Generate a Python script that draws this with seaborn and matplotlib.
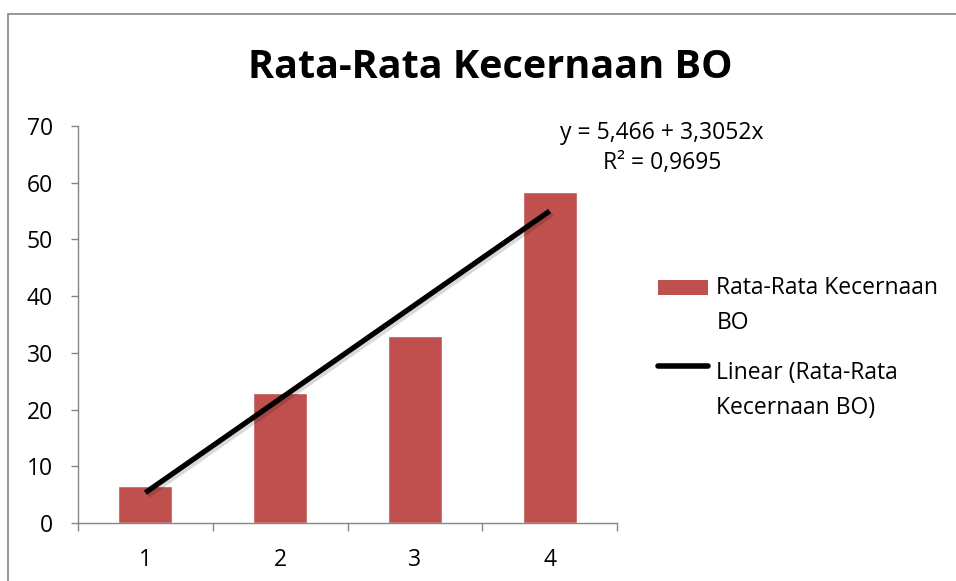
"""
plot.py - Rata-Rata Kecernaan BO bar chart with linear trendline.
"""

import numpy as np
import pandas as pd
import matplotlib
matplotlib.use("Agg")
import matplotlib.pyplot as plt
import matplotlib.patheffects as pe
from matplotlib.patches import Rectangle, Patch
from matplotlib.lines import Line2D
import seaborn as sns

# Data
categories = ["1", "2", "3", "4"]
values = [6.5, 22.9, 33.0, 58.3]
series_name = "Rata-Rata Kecernaan\nBO"
trend_name = "Linear (Rata-Rata\nKecernaan BO)"
equation_text = "y = 5,466 + 3,3052x\nR² = 0,9695"
y_ticks = [0, 10, 20, 30, 40, 50, 60, 70]

BAR_COLOR = "#C0504D"
AXIS_COLOR = "#868686"
FS = 16.5

sns.set_style("white")
plt.rcParams["font.family"] = ["Open Sans", "DejaVu Sans"]
plt.rcParams["text.color"] = "black"
plt.rcParams["xtick.labelcolor"] = "black"
plt.rcParams["ytick.labelcolor"] = "black"

df = pd.DataFrame({"cat": categories, "val": values})

fig = plt.figure(figsize=(9.56, 5.81), dpi=100)
ax = fig.add_axes([78 / 956, 58 / 581, 539 / 956, 397 / 581])

sns.barplot(data=df, x="cat", y="val", color=BAR_COLOR, saturation=1,
            width=0.4, ax=ax)

# Linear trendline from the data
xnum = np.arange(1, len(values) + 1)
slope, intercept = np.polyfit(xnum, values, 1)
pos = np.arange(len(values))
ax.plot(pos, intercept + slope * xnum, color="black", lw=3.8,
        solid_capstyle="butt",
        path_effects=[pe.SimpleLineShadow(offset=(1.5, -1.5), alpha=0.15,
                                          linewidth=5),
                      pe.Normal()])

ax.set_xlim(-0.5, len(values) - 0.5)
ax.set_ylim(0, 70)
ax.set_yticks(y_ticks)
ax.set_xticks(np.arange(-0.5, len(values), 1.0))
ax.set_xticklabels([])
ax.set_xticks(pos, minor=True)
ax.set_xticklabels(categories, minor=True)
ax.set_xlabel("")
ax.set_ylabel("")

for side in ["top", "right"]:
    ax.spines[side].set_visible(False)
for side in ["left", "bottom"]:
    ax.spines[side].set_color(AXIS_COLOR)
    ax.spines[side].set_linewidth(1)

ax.tick_params(axis="y", which="major", direction="out", length=5, width=1,
               color=AXIS_COLOR, labelsize=FS, labelcolor="black", pad=13,
               left=True)
ax.tick_params(axis="x", which="major", direction="out", length=6, width=1,
               color=AXIS_COLOR, bottom=True)
ax.tick_params(axis="x", which="minor", length=0, labelsize=FS,
               labelcolor="black", pad=18)

# Title and trendline equation
fig.text(490 / 956, 1 - 68 / 581, "Rata-Rata Kecernaan BO", ha="center",
         va="center", fontsize=28.5, fontweight="bold", color="black")
fig.text(662 / 956, 1 - 148 / 581, equation_text, ha="center", va="center",
         fontsize=FS, linespacing=1.3, color="black")

# Legend
handles = [Patch(facecolor=BAR_COLOR, edgecolor="none"),
           Line2D([0], [0], color="black", lw=4)]
labels = [series_name, trend_name]
leg = fig.legend(handles, labels, loc="upper left",
                 bbox_to_anchor=(658 / 956, 1 - 276 / 581), frameon=False,
                 fontsize=FS, handlelength=2.2, handleheight=0.65,
                 handletextpad=0.35, labelspacing=1.15, borderpad=0,
                 borderaxespad=0)
for t in leg.get_texts():
    t.set_linespacing(1.6)
    t.set_color("black")

# keep legend keys level with the first line of each label
patch_h, line_h = leg.legend_handles
patch_h.set_y(patch_h.get_y() + 13.5)
line_h.set_ydata(np.asarray(line_h.get_ydata()) + 18.5)

# Outer chart frame
fig.patches.append(Rectangle((8 / 956, -0.1), 1.2, 567 / 581 + 0.1,
                             transform=fig.transFigure, fill=False,
                             edgecolor=AXIS_COLOR, lw=1.2))

fig.savefig("out.png", dpi=100)
